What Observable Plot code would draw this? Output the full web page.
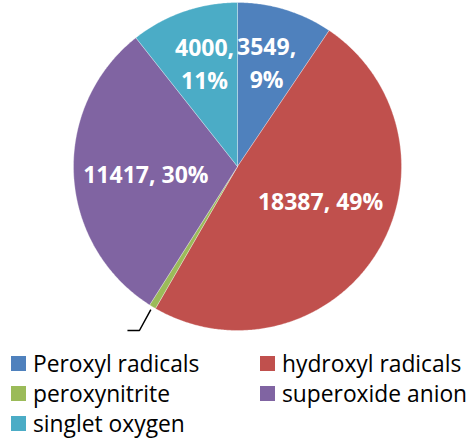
<!DOCTYPE html>
<html>
<head>
<meta charset="utf-8">
<script src="https://cdn.jsdelivr.net/npm/d3@7"></script>
<script src="https://cdn.jsdelivr.net/npm/@observablehq/plot@0.6"></script>
<style>
  html, body { margin: 0; padding: 0; background: #fff; }
  #wrap { width: 469px; font-family: "Open Sans", sans-serif; }
  #legend { display: grid; grid-template-columns: 249px auto; padding-left: 11px; margin-top: 8px; }
  .item { display: flex; align-items: center; height: 30px; font-size: 22.8px; color: #000; white-space: nowrap; }
  .sw { width: 15px; height: 15px; margin-right: 7px; flex: none; }
</style>
</head>
<body>
<div id="wrap"></div>
<script>
// ---- data ----
const categories = ["Peroxyl radicals", "hydroxyl radicals", "peroxynitrite", "superoxide anion", "singlet oxygen"];
const values = [3549, 18387, 250, 11417, 4000];
const percents = ["9%", "49%", "1%", "30%", "11%"];
const colors = ["#4F81BD", "#C0504D", "#9BBB59", "#8064A2", "#4BACC6"];

// ---- geometry (unit circle, angles clockwise from 12 o'clock) ----
const total = d3.sum(values);
const slices = [];
let cum = 0;
categories.forEach((name, i) => {
  const a0 = cum / total * 2 * Math.PI;
  cum += values[i];
  const a1 = cum / total * 2 * Math.PI;
  slices.push({name, value: values[i], pct: percents[i], a0, a1, mid: (a0 + a1) / 2});
});

const polys = [];
for (const s of slices) {
  polys.push({name: s.name, x: 0, y: 0});
  const n = Math.max(2, Math.ceil((s.a1 - s.a0) / (Math.PI / 360)));
  for (let k = 0; k <= n; k++) {
    const a = s.a0 + (s.a1 - s.a0) * k / n;
    polys.push({name: s.name, x: Math.sin(a), y: Math.cos(a)});
  }
  polys.push({name: s.name, x: 0, y: 0});
}

// label placement (angle shift in degrees, radius fraction)
const placement = {
  "Peroxyl radicals": [-1.5, 0.665, true],
  "hydroxyl radicals": [-10.3, 0.545, false],
  "superoxide anion": [-1, 0.56, false],
  "singlet oxygen": [1.7, 0.67, true]
};
const labels = slices.filter(s => placement[s.name]).map(s => {
  const [da, r, twoLine] = placement[s.name];
  const a = s.mid + da * Math.PI / 180;
  return {x: r * Math.sin(a), y: r * Math.cos(a), text: twoLine ? `${s.value},\n${s.pct}` : `${s.value}, ${s.pct}`};
});

// leader line for the tiny slice
const tiny = slices[2];
const leader = [
  {x: 1.02 * Math.sin(tiny.mid), y: 1.02 * Math.cos(tiny.mid)},
  {x: -0.598, y: -1.0},
  {x: -0.671, y: -1.0}
];

const chart = Plot.plot({
  width: 469,
  height: 340,
  marginLeft: 73,
  marginRight: 68,
  marginTop: 2,
  marginBottom: 10,
  x: {domain: [-1, 1], axis: null},
  y: {domain: [-1, 1], axis: null},
  color: {domain: categories, range: colors},
  style: {overflow: "visible"},
  marks: [
    Plot.line(polys, {x: "x", y: "y", z: "name", fill: "name", stroke: "white", strokeWidth: 0.5, strokeOpacity: 0.6, curve: "linear"}),
    Plot.line(leader, {x: "x", y: "y", stroke: "black", strokeWidth: 1.5, strokeLinecap: "butt"}),
    Plot.text(labels, {x: "x", y: "y", text: "text", fill: "white", fontSize: 23, fontWeight: "bold", fontFamily: "Open Sans", lineHeight: 1.43, clip: false})
  ]
});

const wrap = document.getElementById("wrap");
wrap.appendChild(chart);

const legend = document.createElement("div");
legend.id = "legend";
categories.forEach((c, i) => {
  const it = document.createElement("div");
  it.className = "item";
  it.innerHTML = `<span class="sw" style="background:${colors[i]}"></span><span>${c}</span>`;
  legend.appendChild(it);
});
wrap.appendChild(legend);
</script>
</body>
</html>
